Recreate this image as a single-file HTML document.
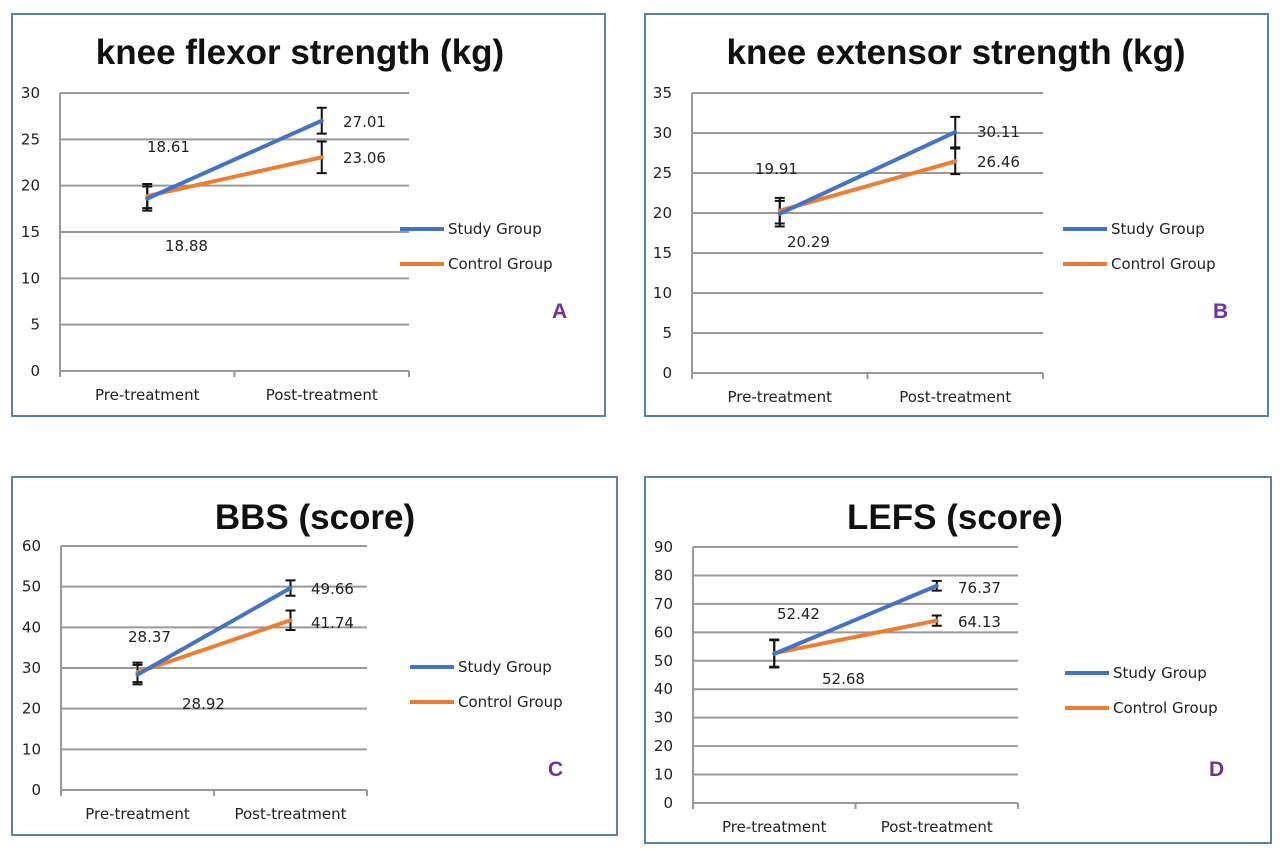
<!DOCTYPE html>
<html><head><meta charset="utf-8">
<style>
html,body{margin:0;padding:0;background:#fff;}
svg{display:block;}
text{font-family:"DejaVu Sans","Liberation Sans",sans-serif;}
.title{font-family:"Liberation Sans",sans-serif;font-weight:bold;font-size:35px;fill:#111;}
.tick{font-size:15px;fill:#222;}
.lbl{font-size:15px;fill:#222;}
.leg{font-size:15px;fill:#222;}
.letter{font-family:"Liberation Sans",sans-serif;font-weight:bold;font-size:21px;fill:#7030a0;}
</style></head>
<body>
<svg id="fig" width="1280" height="850" viewBox="0 0 1280 850"></svg>
<script>
// ---- data ----
const categories = ["Pre-treatment", "Post-treatment"];
const titles = ["knee flexor strength (kg)", "knee extensor strength (kg)", "BBS (score)", "LEFS (score)"];
const letters = ["A", "B", "C", "D"];
const yMax = [30, 35, 60, 90];
const yStep = [5, 5, 10, 10];
const studyValues = [[18.61, 27.01], [19.91, 30.11], [28.37, 49.66], [52.42, 76.37]];
const controlValues = [[18.88, 23.06], [20.29, 26.46], [28.92, 41.74], [52.68, 64.13]];
const studyErr = [[1.3, 1.4], [1.6, 1.9], [2.4, 1.9], [4.8, 1.7]];
const controlErr = [[1.3, 1.7], [1.6, 1.6], [2.4, 2.4], [4.8, 1.8]];
const seriesNames = ["Study Group", "Control Group"];

// ---- layout (pixels) ----
const L = [
 {box:[12,14,593,402], x0:60, x1:409, yTop:93, yBot:371, tx:300, ty:64, leg:[400,229], let:[552,318],
  lab:[[147,152],[165,251],[343,127],[343,163]]},
 {box:[645,14,623,402], x0:692, x1:1043, yTop:93, yBot:373, tx:956, ty:64, leg:[1063,229], let:[1213,318],
  lab:[[755,174],[787,247],[977,137],[977,167]]},
 {box:[12,477,605,358], x0:61, x1:367, yTop:546, yBot:790, tx:315, ty:529, leg:[410,667], let:[548,776],
  lab:[[128,642],[182,709],[311,594],[311,628]]},
 {box:[645,477,626,366], x0:693, x1:1018, yTop:547, yBot:803, tx:955, ty:529, leg:[1065,673], let:[1209,776],
  lab:[[777,619],[822,684],[958,593],[958,627]]}
];
const NS = "http://www.w3.org/2000/svg";
const fig = document.getElementById('fig');
function mk(tag, attrs, parent, txt){
  const e = document.createElementNS(NS, tag);
  for (const k in attrs) e.setAttribute(k, attrs[k]);
  if (txt !== undefined) e.textContent = txt;
  parent.appendChild(e);
  return e;
}
const colors = ["#4472c4", "#ed7d31"];

for (let p = 0; p < 4; p++){
  const c = L[p];
  const g = mk('g', {}, fig);
  
  
  const yS = v => c.yBot - (v / yMax[p]) * (c.yBot - c.yTop);
  const band = (c.x1 - c.x0) / categories.length;
  const xS = i => c.x0 + band * (i + 0.5);

  const box = mk('rect', {x:c.box[0], y:c.box[1], width:c.box[2], height:c.box[3], fill:'#fff', stroke:'#5b7fa8', 'stroke-width':2}, g);
  
  
  const t = mk('text', {x:c.tx, y:c.ty, 'text-anchor':'middle', class:'title'}, g, titles[p]);
  
  

  for (let v = 0; v <= yMax[p]; v += yStep[p]){
    const y = yS(v);
    const gl = mk('line', {x1:c.x0, x2:c.x1, y1:y, y2:y, stroke:'#999', 'stroke-width':2}, g);
    
    
    const tl = mk('text', {x:c.x0 - 20, y:y + 5, 'text-anchor':'end', class:'tick'}, g, String(v));
    
    
  }
  const ax = mk('line', {x1:c.x0, x2:c.x0, y1:c.yTop, y2:c.yBot + 5, stroke:'#999', 'stroke-width':2}, g);
  
  
  for (let i = 0; i <= categories.length; i++){
    const xt = c.x0 + band * i;
    const tk = mk('line', {x1:xt, x2:xt, y1:c.yBot, y2:c.yBot + 6, stroke:'#999', 'stroke-width':2}, g);
    
    
  }
  categories.forEach((cat, i) => {
    const xl = mk('text', {x:xS(i), y:c.yBot + 29, 'text-anchor':'middle', class:'tick'}, g, cat);
    
    
  });

  const series = [studyValues[p], controlValues[p]];
  const errs = [studyErr[p], controlErr[p]];
  for (let s = 0; s < 2; s++){
    series[s].forEach((v, i) => {
      const x = xS(i), a = yS(v + errs[s][i]), b = yS(v - errs[s][i]);
      const eb = mk('path', {d:`M${x},${a}V${b}M${x-5},${a}H${x+5}M${x-5},${b}H${x+5}`, stroke:'#111', 'stroke-width':2, fill:'none'}, g);
      
      
    });
  }
  for (let s = 1; s >= 0; s--){
    const pts = series[s].map((v, i) => xS(i) + ',' + yS(v)).join(' ');
    const ln = mk('polyline', {points:pts, fill:'none', stroke:colors[s], 'stroke-width':4, 'stroke-linecap':'round'}, g);
    
    
  }
  const vals = [studyValues[p][0], controlValues[p][0], studyValues[p][1], controlValues[p][1]];
  vals.forEach((v, k) => {
    const vl = mk('text', {x:c.lab[k][0], y:c.lab[k][1], class:'lbl'}, g, v.toFixed(2));
    
    
  });
  for (let s = 0; s < 2; s++){
    const ly = c.leg[1] + s * 35;
    const lg = mk('g', {}, g);
    
    
    mk('line', {x1:c.leg[0], x2:c.leg[0] + 44, y1:ly, y2:ly, stroke:colors[s], 'stroke-width':4}, lg);
    mk('text', {x:c.leg[0] + 48, y:ly + 5, class:'leg'}, lg, seriesNames[s]);
  }
  const lt = mk('text', {x:c.let[0], y:c.let[1], class:'letter'}, g, letters[p]);
  
  
}
</script>
</body></html>
